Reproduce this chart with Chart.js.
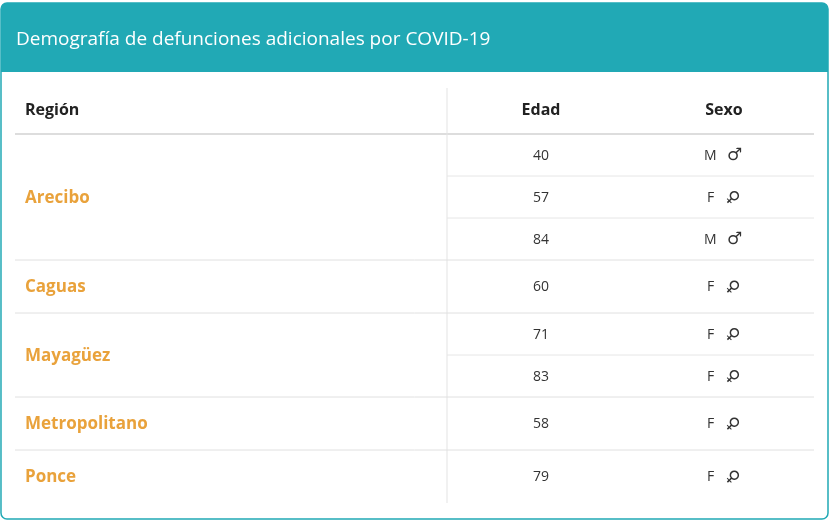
<!DOCTYPE html>
<html><head><meta charset="utf-8">
<script src="https://cdn.jsdelivr.net/npm/chart.js@4"></script>
<style>body{margin:0;background:#fff}</style>
</head><body>
<canvas id="myChart" width="829" height="525"></canvas>
<script>
const title = "Demografía de defunciones adicionales por COVID-19";
const columns = ["Región", "Edad", "Sexo"];
const regions = ["Arecibo", "Caguas", "Mayagüez", "Metropolitano", "Ponce"];
const regionCounts = [3, 1, 2, 1, 1];
const ages = [40, 57, 84, 60, 71, 83, 58, 79];
const sexes = ["M", "F", "M", "F", "F", "F", "F", "F"];

const tablePlugin = {
  id: "table",
  afterDraw(chart) {
    const c = chart.ctx, sx = chart.scales.x, sy = chart.scales.y;
    const X = v => sx.getPixelForValue(v), Y = v => sy.getPixelForValue(v);
    const line = (x1, y1, x2, y2, col, w) => {
      c.strokeStyle = col; c.lineWidth = w;
      c.beginPath(); c.moveTo(X(x1), Y(y1)); c.lineTo(X(x2), Y(y2)); c.stroke();
    };
    c.save();
    // card
    c.fillStyle = "#21a9b5";
    c.beginPath(); c.roundRect(X(1), Y(3), X(828) - X(1), Y(72) - Y(3), [6, 6, 0, 0]); c.fill();
    c.strokeStyle = "#21a9b5"; c.lineWidth = 1.5;
    c.beginPath(); c.roundRect(X(1), Y(3), X(828) - X(1), Y(519) - Y(3), 6); c.stroke();
    c.fillStyle = "#fff"; c.font = "19px 'Open Sans'"; c.textBaseline = "middle";
    c.fillText(title, X(16), Y(40));
    // header row
    c.fillStyle = "#222"; c.font = "bold 16px 'Open Sans'";
    c.textAlign = "left"; c.fillText(columns[0], X(25), Y(110));
    c.textAlign = "center"; c.fillText(columns[1], X(541), Y(110)); c.fillText(columns[2], X(724), Y(110));
    line(15, 134, 814, 134, "#ddd", 2);
    line(447, 88, 447, 503, "#e3e3e3", 1);
    let y = 134, k = 0;
    regions.forEach((r, i) => {
      const n = regionCounts[i], h = n === 1 ? 53 : 42, top = y;
      for (let j = 0; j < n; j++, k++) {
        const cy = y + h / 2 + 1;
        c.fillStyle = "#333"; c.font = "14px 'Open Sans'"; c.textAlign = "center";
        c.fillText(String(ages[k]), X(541), Y(cy));
        c.textAlign = "left"; c.fillText(sexes[k], X(sexes[k] === "M" ? 704 : 707), Y(cy));
        c.font = "17px 'DejaVu Sans'";
        if (sexes[k] === "M") {
          c.fillText("♂", X(727), Y(cy));
        } else {
          c.save();
          c.translate(X(732), Y(cy));
          c.rotate(Math.PI / 4);
          c.textAlign = "center";
          c.fillText("♀", 0, 0);
          c.restore();
        }
        y += h;
        if (j < n - 1) line(447, y, 814, y, "#e6e6e6", 1);
      }
      c.fillStyle = "#e9a23b"; c.font = "bold 17px 'Open Sans'"; c.textAlign = "left";
      c.fillText(r, X(25), Y((top + y) / 2 + 1));
      if (i < regions.length - 1) line(15, y, 814, y, "#e0e0e0", 1);
    });
    c.restore();
  }
};

new Chart(document.getElementById("myChart"), {
  type: "scatter",
  data: { datasets: [{ data: [] }] },
  options: {
    responsive: false, animation: false,
    layout: { padding: 0 },
    plugins: { legend: { display: false }, tooltip: { enabled: false } },
    scales: {
      x: { type: "linear", min: 0, max: 829, display: false },
      y: { type: "linear", min: 0, max: 525, reverse: true, display: false }
    }
  },
  plugins: [tablePlugin]
});
</script>
</body></html>
